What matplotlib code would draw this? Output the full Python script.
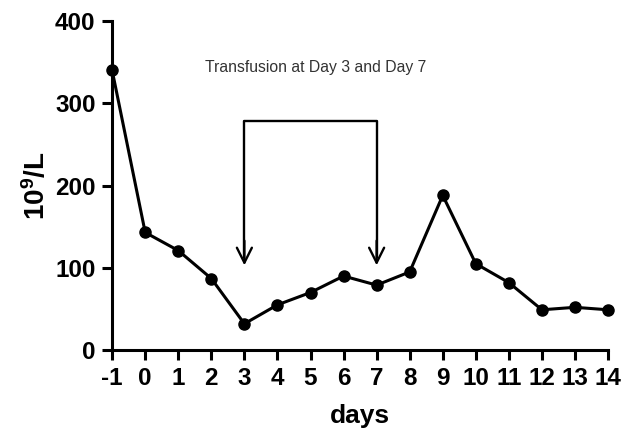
import numpy as np
import matplotlib
matplotlib.use("Agg")
import matplotlib.pyplot as plt

plt.rcParams['font.family'] = ['Liberation Sans', 'DejaVu Sans']
plt.rcParams['mathtext.fontset'] = 'custom'
plt.rcParams['mathtext.rm'] = 'Liberation Sans:bold'
plt.rcParams['mathtext.bf'] = 'Liberation Sans:bold'
plt.rcParams['axes.unicode_minus'] = False

days = [-1, 0, 1, 2, 3, 4, 5, 6, 7, 8, 9, 10, 11, 12, 13, 14]
counts = [340, 143, 121, 87, 32, 55, 70, 90, 79, 95, 188, 105, 82, 49, 52, 49]
transfusion_days = [3, 7]
note = "Transfusion at Day 3 and Day 7"

fig = plt.figure(figsize=(6.23, 4.28), dpi=100)
ax = fig.add_axes([0.18, 0.182, 0.796, 0.769])

ax.plot(days, counts, '-o', color='black', lw=2.2, ms=8, clip_on=False, zorder=3)

# bracket with arrows at transfusion days
top = 278
tip = 103
ax.plot([transfusion_days[0], transfusion_days[0], transfusion_days[1], transfusion_days[1]],
        [tip + 10, top, top, tip + 10], color='black', lw=1.7)
for d in transfusion_days:
    ax.annotate('', xy=(d, tip), xytext=(d, tip + 30),
                arrowprops=dict(arrowstyle='->, head_width=0.3, head_length=0.6',
                                color='black', lw=1.7,
                                mutation_scale=18, shrinkA=0, shrinkB=0))

ax.text(5.17, 344, note, ha='center', va='center', fontsize=11.3, color='#333333')

ax.set_xlim(-1, 14)
ax.set_ylim(0, 400)
ax.set_xticks(days)
ax.set_yticks([0, 100, 200, 300, 400])
for s in ['top', 'right']:
    ax.spines[s].set_visible(False)
for s in ['left', 'bottom']:
    ax.spines[s].set_linewidth(2.2)
ax.tick_params(width=2.2, length=7, labelsize=17.5, pad=5)
for lbl in ax.get_xticklabels() + ax.get_yticklabels():
    lbl.set_fontweight('bold')

ax.set_xlabel('days', fontsize=19, fontweight='bold', labelpad=10)
ax.set_ylabel(r'$\mathbf{10^9/L}$', fontsize=20, labelpad=3)

fig.savefig('out.png', dpi=100)
